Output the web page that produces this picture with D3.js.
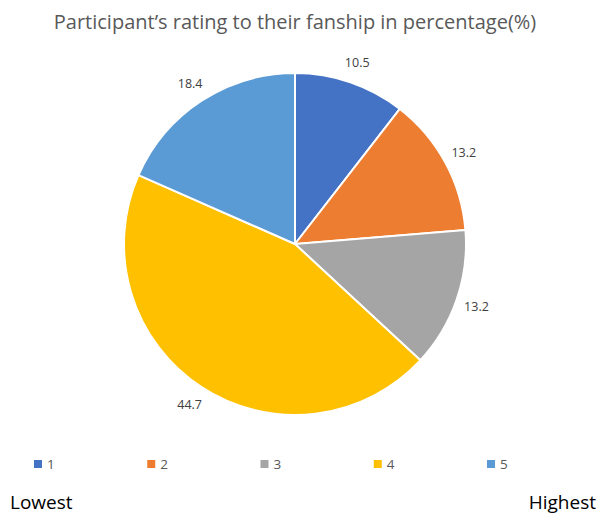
<!DOCTYPE html>
<meta charset="utf-8">
<title>Fanship rating pie</title>
<style>
body { margin: 0; background: #fff; }
svg { font-family: "Open Sans", "Noto Sans", sans-serif; }
.slice { stroke: #fff; stroke-width: 2px; }
.label { font-size: 12.5px; fill: #404040; }
.legend text { font-size: 13.5px; fill: #595959; }
</style>
<body>
<div id="chart"></div>
<script src="https://cdn.jsdelivr.net/npm/d3@7"></script>
<script>

// data
const categories = ["1", "2", "3", "4", "5"];
const values = [10.5, 13.2, 13.2, 44.7, 18.4];
const colours = ["#4472C4", "#ED7D31", "#A5A5A5", "#FFC000", "#5B9BD5"];

const width = 598, height = 516;
const cx = 295, cy = 244, radius = 171;

const svg = d3.select("#chart").append("svg")
    .attr("width", width)
    .attr("height", height);

// title
svg.append("text")
    .attr("x", 295)
    .attr("y", 29)
    .attr("text-anchor", "middle")
    .attr("font-size", 20)
    .attr("fill", "#595959")
    .text("Participant\u2019s rating to their fanship in percentage(%)");

const pie = d3.pie().sort(null).value(d => d.value);
const arc = d3.arc().innerRadius(0).outerRadius(radius);
const labelArc = d3.arc().innerRadius(192).outerRadius(192);

const data = categories.map((c, i) => ({ cat: c, value: values[i], colour: colours[i] }));
const arcs = pie(data);

const g = svg.append("g").attr("transform", `translate(${cx},${cy})`);

g.selectAll(".slice")
    .data(arcs)
    .enter().append("path")
    .attr("class", "slice")
    .attr("d", arc)
    .attr("fill", d => d.data.colour);

g.selectAll(".label")
    .data(arcs)
    .enter().append("text")
    .attr("class", "label")
    .attr("text-anchor", "middle")
    .attr("dy", "0.35em")
    .attr("transform", d => `translate(${labelArc.centroid(d)})`)
    .text(d => d.data.value.toFixed(1));

// legend
const legendX = d3.scalePoint().domain(categories).range([38, 491]);
const legend = svg.append("g").attr("class", "legend")
    .selectAll("g")
    .data(data)
    .enter().append("g")
    .attr("transform", d => `translate(${legendX(d.cat)},464)`);

legend.append("rect")
    .attr("x", -4).attr("y", -4)
    .attr("width", 8).attr("height", 8)
    .attr("fill", d => d.colour);

legend.append("text")
    .attr("x", 9)
    .attr("dy", "0.35em")
    .text(d => d.cat);

// scale ends
svg.append("text")
    .attr("x", 10).attr("y", 509)
    .attr("font-size", 19).attr("fill", "#000")
    .text("Lowest");

svg.append("text")
    .attr("x", 596).attr("y", 509)
    .attr("text-anchor", "end")
    .attr("font-size", 19).attr("fill", "#000")
    .text("Highest");

</script>
</body>
